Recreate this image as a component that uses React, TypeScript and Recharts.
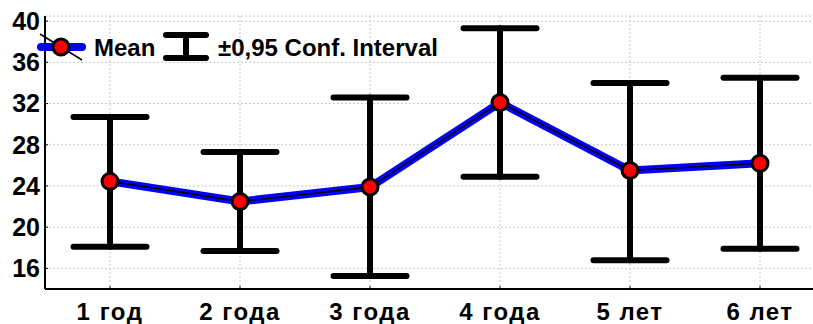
import { CartesianGrid, ComposedChart, ErrorBar, Line, XAxis, YAxis } from "recharts";

const AGES = ["1 год", "2 года", "3 года", "4 года", "5 лет", "6 лет"];
const MEANS = [24.45, 22.5, 23.9, 32.1, 25.5, 26.2];
const LOWER = [18.1, 17.7, 15.25, 24.9, 16.8, 17.9];
const UPPER = [30.7, 27.3, 32.6, 39.3, 34.0, 34.5];
const Y_TICKS = [16, 20, 24, 28, 32, 36, 40];

const rows = AGES.map((age, i) => ({
  age,
  mean: MEANS[i],
  ci: [MEANS[i] - LOWER[i], UPPER[i] - MEANS[i]],
}));

const FONT = '"Liberation Sans", Arial, sans-serif';
const axisLine = { stroke: "#000", strokeWidth: 2 };

function LegendOverlay() {
  return (
    <svg
      width={813}
      height={80}
      style={{ position: "absolute", left: 0, top: 0, pointerEvents: "none" }}
    >
      <line x1={41} y1={47} x2={82} y2={47} stroke="#0000ff" strokeWidth={8} strokeLinecap="round" />
      <line x1={40} y1={34} x2={82} y2={60} stroke="#000" strokeWidth={1.5} />
      <circle cx={61} cy={47} r={8} fill="#ff0000" stroke="#000" strokeWidth={3} />
      <text x={94} y={56} fontFamily={FONT} fontWeight={700} fontSize={24} fill="#000">
        Mean
      </text>
      <line x1={166} y1={35} x2={206} y2={35} stroke="#000" strokeWidth={6} strokeLinecap="round" />
      <line x1={166} y1={58} x2={206} y2={58} stroke="#000" strokeWidth={6} strokeLinecap="round" />
      <line x1={186} y1={35} x2={186} y2={58} stroke="#000" strokeWidth={6} />
      <text x={218} y={56} fontFamily={FONT} fontWeight={700} fontSize={24} fill="#000">
        ±0,95 Conf. Interval
      </text>
    </svg>
  );
}

export default function App() {
  return (
    <div
      style={{
        position: "relative",
        width: 813,
        height: 324,
        overflow: "hidden",
        fontFamily: FONT,
        background: "#fff",
      }}
    >
      <style>{"body{margin:0;overflow:hidden}"}</style>
      <ComposedChart
        width={832}
        height={324}
        data={rows}
        margin={{ top: 16, right: 7, bottom: 0, left: 0 }}
      >
        <CartesianGrid stroke="#c8c8c8" strokeDasharray="2 2" />
        <XAxis
          xAxisId="top"
          orientation="top"
          dataKey="age"
          scale="band"
          height={0}
          tick={false}
          tickSize={-3}
          tickLine={{ stroke: "#000" }}
          axisLine={axisLine}
        />
        <XAxis
          dataKey="age"
          scale="band"
          height={35}
          interval={0}
          tickSize={-3}
          tickMargin={17}
          tickLine={{ stroke: "#000" }}
          axisLine={axisLine}
          tick={{
            fill: "#000",
            fontSize: 24,
            fontWeight: 700,
            fontFamily: FONT,
            style: { letterSpacing: 1.5 },
          }}
        />
        <YAxis
          type="number"
          width={45}
          domain={[14, 40.5]}
          ticks={Y_TICKS}
          allowDataOverflow
          tickSize={-3}
          tickMargin={8}
          tickLine={{ stroke: "#000" }}
          axisLine={axisLine}
          tick={{ fill: "#000", fontSize: 25, fontWeight: 700, fontFamily: FONT }}
        />
        <Line dataKey="mean" stroke="none" dot={false} activeDot={false} isAnimationActive={false}>
          <ErrorBar
            dataKey="ci"
            direction="y"
            width={36.5}
            stroke="#000"
            strokeWidth={6}
            strokeLinecap="round"
          />
        </Line>
        <Line
          dataKey="mean"
          stroke="#0000ff"
          strokeWidth={8}
          dot={{ r: 8, fill: "#ff0000", stroke: "#000", strokeWidth: 3 }}
          activeDot={false}
          isAnimationActive={false}
        />
        <Line
          dataKey="mean"
          stroke="#000"
          strokeWidth={1.5}
          dot={false}
          activeDot={false}
          isAnimationActive={false}
        />
      </ComposedChart>
      <LegendOverlay />
    </div>
  );
}
